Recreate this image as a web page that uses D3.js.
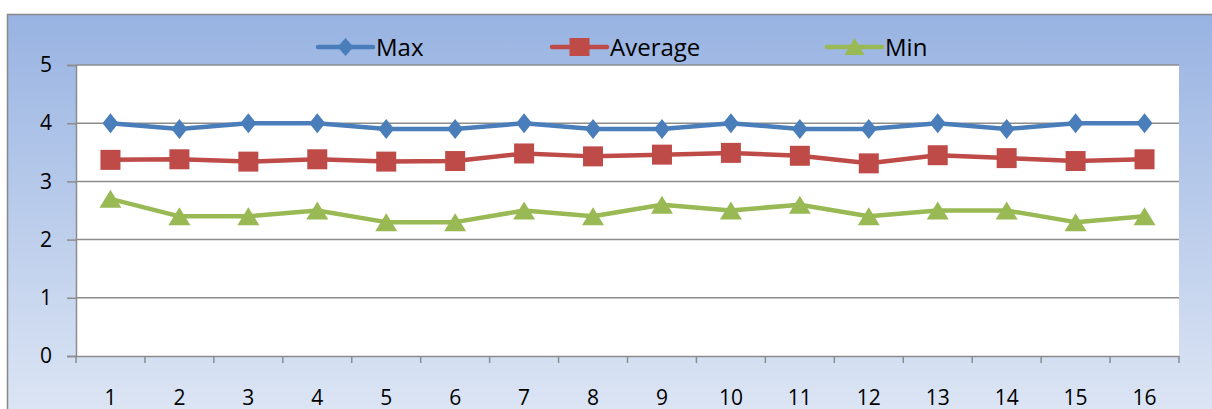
<!DOCTYPE html>
<html>
<head>
<meta charset="utf-8">
<script src="https://cdn.jsdelivr.net/npm/d3@7"></script>
<style>
  html, body { margin: 0; padding: 0; background: #ffffff; }
  svg { display: block; }
  text { font-family: "Open Sans", Lato, sans-serif; fill: #000; }
</style>
</head>
<body>
<svg id="chart" width="1212" height="409"></svg>
<script>
// Session numbers along the x axis
const categories = ["1","2","3","4","5","6","7","8","9","10","11","12","13","14","15","16"];
// Scores per session
const maxValues = [4.0, 3.9, 4.0, 4.0, 3.9, 3.9, 4.0, 3.9, 3.9, 4.0, 3.9, 3.9, 4.0, 3.9, 4.0, 4.0];
const avgValues = [3.37, 3.38, 3.34, 3.38, 3.34, 3.35, 3.48, 3.43, 3.46, 3.49, 3.44, 3.31, 3.45, 3.40, 3.35, 3.38];
const minValues = [2.7, 2.4, 2.4, 2.5, 2.3, 2.3, 2.5, 2.4, 2.6, 2.5, 2.6, 2.4, 2.5, 2.5, 2.3, 2.4];
const yTicks = [0, 1, 2, 3, 4, 5];
const seriesNames = ["Max", "Average", "Min"];

const series = [
  { name: seriesNames[0], values: maxValues, color: "#4a7ebb", symbol: "diamond" },
  { name: seriesNames[1], values: avgValues, color: "#be4b48", symbol: "square" },
  { name: seriesNames[2], values: minValues, color: "#98b954", symbol: "triangle" }
];

const FONT = "'Open Sans', Lato, sans-serif";
const svg = d3.select("#chart");
const plot = { left: 76, right: 1179, top: 65, bottom: 356 };

// Chart background with vertical blue gradient
const defs = svg.append("defs");
const grad = defs.append("linearGradient")
  .attr("id", "bg").attr("x1", 0).attr("y1", 0).attr("x2", 0).attr("y2", 1);
grad.append("stop").attr("offset", "0%").attr("stop-color", "#98b3e2");
grad.append("stop").attr("offset", "100%").attr("stop-color", "#e0e8f5");

svg.append("rect")
  .attr("x", 7.5).attr("y", 14.5).attr("width", 1210).attr("height", 420)
  .attr("fill", "url(#bg)").attr("stroke", "#878787").attr("stroke-width", 1.5);

const x = d3.scaleBand().domain(categories).range([plot.left, plot.right]);
const y = d3.scaleLinear().domain([0, 5]).range([plot.bottom, plot.top]);

// Plot area
svg.append("rect")
  .attr("x", plot.left).attr("y", plot.top)
  .attr("width", plot.right - plot.left).attr("height", plot.bottom - plot.top)
  .attr("fill", "#ffffff");

// Horizontal gridlines
svg.append("g").selectAll("line").data(yTicks.filter(d => d > 0)).join("line")
  .attr("x1", plot.left).attr("x2", plot.right)
  .attr("y1", d => y(d)).attr("y2", d => y(d))
  .attr("stroke", "#8c8c8c").attr("stroke-width", 1.5);

// Y axis
const yAxis = svg.append("g")
  .attr("transform", `translate(${plot.left},0)`)
  .call(d3.axisLeft(y).tickValues(yTicks).tickSize(9).tickPadding(15).tickFormat(d3.format("d")));
yAxis.select(".domain").attr("stroke", "#8c8c8c").attr("stroke-width", 1.5);
yAxis.selectAll(".tick line").attr("stroke", "#8c8c8c").attr("stroke-width", 1.5);
yAxis.selectAll(".tick text").attr("font-size", 21).attr("font-family", FONT).attr("fill", "#000");

// X axis: ticks fall on the category boundaries
const xAxis = svg.append("g")
  .attr("transform", `translate(0,${plot.bottom})`)
  .call(d3.axisBottom(x).tickSize(0).tickPadding(34));
xAxis.select(".domain").attr("stroke", "#8c8c8c").attr("stroke-width", 1.5);
xAxis.selectAll(".tick text").attr("font-size", 21).attr("font-family", FONT).attr("fill", "#000");
const bounds = categories.map(c => x(c)).concat([x(categories[categories.length - 1]) + x.bandwidth()]);
xAxis.append("g").selectAll("line").data(bounds).join("line")
  .attr("x1", d => d).attr("x2", d => d).attr("y1", 0).attr("y2", 7)
  .attr("stroke", "#8c8c8c").attr("stroke-width", 1.5);

const cx = c => x(c) + x.bandwidth() / 2;

function markerPath(type) {
  if (type === "diamond") return "M0,-10L8,0L0,10L-8,0Z";
  if (type === "square") return "M-10,-10H10V10H-10Z";
  return "M0,-9L11,9H-11Z";
}
function legendMarker(type) {
  if (type === "diamond") return "M0,-9L8,0L0,9L-8,0Z";
  if (type === "square") return "M-10,-9H10V9H-10Z";
  return "M0,-9L10,8H-10Z";
}

const line = d3.line().x(d => cx(d.c)).y(d => y(d.v));

series.forEach(s => {
  const pts = categories.map((c, i) => ({ c, v: s.values[i] }));
  svg.append("path").datum(pts)
    .attr("d", line).attr("fill", "none")
    .attr("stroke", s.color).attr("stroke-width", 4.5).attr("stroke-linejoin", "round");
  svg.append("g").selectAll("path").data(pts).join("path")
    .attr("transform", d => `translate(${cx(d.c)},${y(d.v)})`)
    .attr("d", markerPath(s.symbol))
    .attr("fill", s.color);
});

// Legend
const legendX = [318, 552, 827];
const legend = svg.append("g").attr("transform", "translate(0,47)");
series.forEach((s, i) => {
  const g = legend.append("g").attr("transform", `translate(${legendX[i]},0)`);
  g.append("line").attr("x1", 0).attr("x2", 55).attr("y1", 0).attr("y2", 0)
    .attr("stroke", s.color).attr("stroke-width", 4.5).attr("stroke-linecap", "round");
  g.append("path").attr("transform", "translate(27.5,0)").attr("d", legendMarker(s.symbol)).attr("fill", s.color);
  g.append("text").attr("x", 58).attr("y", 8.5).attr("font-size", 24).attr("font-family", FONT).text(s.name);
});
</script>
</body>
</html>
